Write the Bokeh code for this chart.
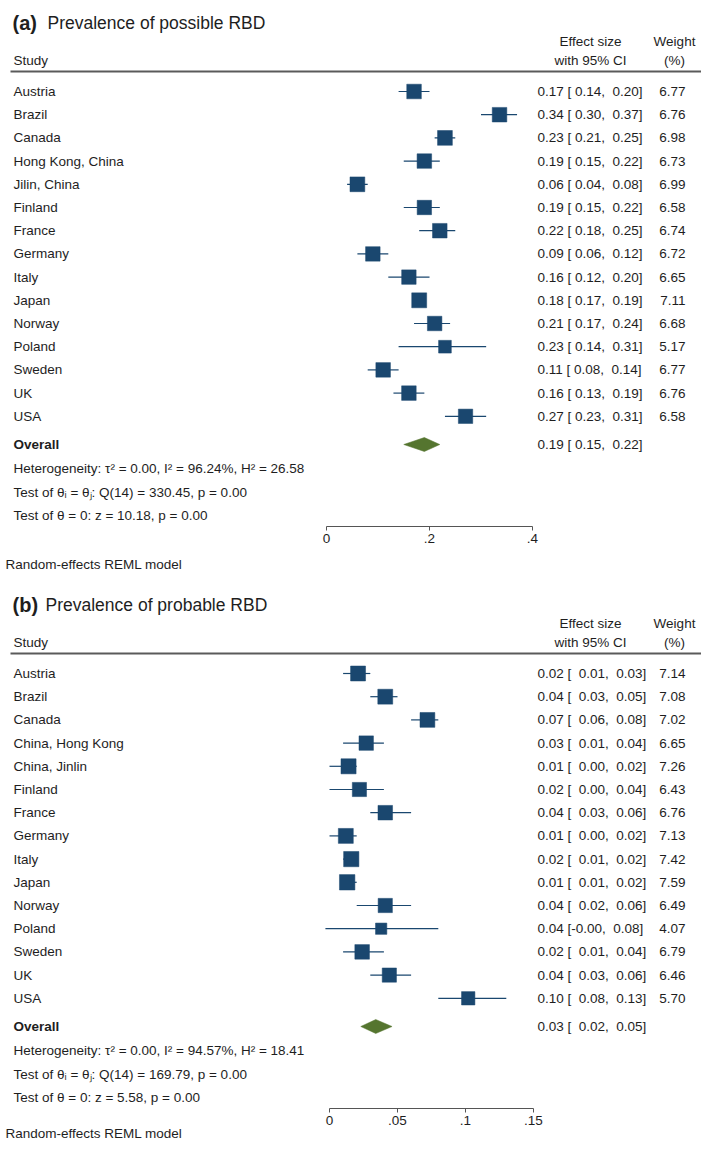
import math
from bokeh.plotting import figure
from bokeh.models import ColumnDataSource, Range1d, LinearAxis, FixedTicker, CustomJSTickFormatter
from bokeh.core.properties import value
from bokeh.embed import file_html
from bokeh.resources import INLINE

# ---------------- data: panel (a) possible RBD ----------------
studies_a = ["Austria", "Brazil", "Canada", "Hong Kong, China", "Jilin, China", "Finland",
             "France", "Germany", "Italy", "Japan", "Norway", "Poland", "Sweden", "UK", "USA"]
es_a = [0.17, 0.336, 0.23, 0.19, 0.06, 0.19, 0.22, 0.09, 0.16, 0.18, 0.21, 0.23, 0.11, 0.16, 0.27]
lo_a = [0.14, 0.30, 0.21, 0.15, 0.04, 0.15, 0.18, 0.06, 0.12, 0.17, 0.17, 0.14, 0.08, 0.13, 0.23]
hi_a = [0.20, 0.37, 0.25, 0.22, 0.08, 0.22, 0.25, 0.12, 0.20, 0.19, 0.24, 0.31, 0.14, 0.19, 0.31]
wt_a = [6.77, 6.76, 6.98, 6.73, 6.99, 6.58, 6.74, 6.72, 6.65, 7.11, 6.68, 5.17, 6.77, 6.76, 6.58]
overall_a = [0.19, 0.15, 0.22]
tau2_a, i2_a, h2_a = 0.00, 96.24, 26.58
q_a, qdf_a, qp_a = 330.45, 14, 0.00
z_a, zp_a = 10.18, 0.00
ticks_a = [0, 0.2, 0.4]

# ---------------- data: panel (b) probable RBD ----------------
studies_b = ["Austria", "Brazil", "Canada", "China, Hong Kong", "China, Jinlin", "Finland",
             "France", "Germany", "Italy", "Japan", "Norway", "Poland", "Sweden", "UK", "USA"]
es_b = [0.021, 0.041, 0.072, 0.027, 0.014, 0.022, 0.041, 0.012, 0.016, 0.013, 0.041, 0.038, 0.024, 0.044, 0.102]
lo_b = [0.01, 0.03, 0.06, 0.01, 0.00, 0.00, 0.03, 0.00, 0.01, 0.01, 0.02, -0.003, 0.01, 0.03, 0.08]
hi_b = [0.03, 0.05, 0.08, 0.04, 0.02, 0.04, 0.06, 0.02, 0.02, 0.02, 0.06, 0.08, 0.04, 0.06, 0.13]
wt_b = [7.14, 7.08, 7.02, 6.65, 7.26, 6.43, 6.76, 7.13, 7.42, 7.59, 6.49, 4.07, 6.79, 6.46, 5.70]
overall_b = [0.034, 0.023, 0.046]
tau2_b, i2_b, h2_b = 0.00, 94.57, 18.41
q_b, qdf_b, qp_b = 169.79, 14, 0.00
z_b, zp_b = 5.58, 0.00
ticks_b = [0, 0.05, 0.1, 0.15]

# ---------------- layout / style ----------------
W, H = 701, 1141
NAVY = "#1a476f"
GREEN = "#55752f"
TXT = "#1e1e1e"
RULE_C = "#5a5a5a"
FONT = "Liberation Sans"
FS = "13.5px"
NB = "\u00a0"

TITLE_BASE = 22
HDR1 = 41
HDR2 = 60
RULE_Y = 71
ROW0 = 91
ROWH = 23.2
OVERALL_Y = 444
STAT_Y = [468, 492, 515]
AXIS_Y = 526
MODEL_Y = 564
PANEL_OFF = 582

STUDY_X = 13
ES_X = 537
ES_CX = 590
WT_CX = 674
WT_R = 685
RULE_X1 = 702
SQ_K = 5.6
DH = 7

X0 = {"a": 326, "b": 329}
PXU = {"a": 515, "b": 1360}

p = figure(width=W, height=H, x_range=Range1d(0, W), y_range=Range1d(H, 0),
           output_backend="svg", toolbar_location=None,
           x_axis_location=None, y_axis_location=None, min_border=0)
p.outline_line_color = None
p.grid.visible = False
p.background_fill_color = "white"
p.extra_x_ranges = {k: Range1d(-X0[k] / PXU[k], (W - X0[k]) / PXU[k]) for k in X0}


def txt(xs, ys, texts, size=FS, bold=False, align="left", baseline="middle"):
    src = ColumnDataSource(dict(x=xs, y=ys, t=texts))
    p.text("x", "y", text="t", source=src, text_font=value(FONT), text_font_size=value(size),
           text_font_style="bold" if bold else "normal", text_align=align,
           text_baseline=baseline, text_color=TXT)


def fmt(e, l, h, lw):
    ls = f"{l:.2f}"
    if l >= 0:
        ls = NB * lw + ls
    return f"{e:.2f}{NB}[{ls},{NB}{NB}{h:.2f}]"


def panel(key, off, letter, title, title_x, studies, es, lo, hi, wt, ov, stats, ticks, lw):
    n = len(studies)
    ys = [off + ROW0 + i * ROWH for i in range(n)]
    txt([12], [off + TITLE_BASE], [f"({letter})"], size="20px", bold=True, baseline="alphabetic")
    txt([title_x], [off + TITLE_BASE], [title], size="17.5px", baseline="alphabetic")
    txt([STUDY_X], [off + HDR2], ["Study"])
    txt([ES_CX, ES_CX], [off + HDR1, off + HDR2], ["Effect size", "with 95% CI"], align="center")
    txt([WT_CX, WT_CX], [off + HDR1, off + HDR2], ["Weight", "(%)"], align="center")
    p.segment(x0=[10], x1=[RULE_X1], y0=[off + RULE_Y], y1=[off + RULE_Y], line_color=RULE_C, line_width=2)

    txt([STUDY_X] * n, ys, studies)
    txt([ES_X] * n, ys, [fmt(e, l, h, lw) for e, l, h in zip(es, lo, hi)])
    txt([WT_R] * n, ys, [f"{w:.2f}" for w in wt], align="right")

    src = ColumnDataSource(dict(es=es, lo=lo, hi=hi, y=ys, s=[SQ_K * math.sqrt(w) for w in wt]))
    p.segment(x0="lo", x1="hi", y0="y", y1="y", source=src, x_range_name=key,
              line_color=NAVY, line_width=1.2)
    p.scatter(x="es", y="y", size="s", marker="square", source=src, x_range_name=key,
              fill_color=NAVY, line_color=NAVY, line_width=0.5)

    oy = off + OVERALL_Y
    txt([STUDY_X], [oy], ["Overall"], bold=True)
    p.patches(xs=[[ov[1], ov[0], ov[2], ov[0]]], ys=[[oy, oy - DH, oy, oy + DH]],
              x_range_name=key, fill_color=GREEN, line_color=GREEN, line_width=0.5)
    txt([ES_X], [oy], [fmt(ov[0], ov[1], ov[2], lw)])

    tau2, i2, h2, q, qdf, qp, z, zp = stats
    lines = [f"Heterogeneity: \u03c4\u00b2 = {tau2:.2f}, I\u00b2 = {i2:.2f}%, H\u00b2 = {h2:.2f}",
             f"Test of \u03b8\u1d62 = \u03b8\u2c7c: Q({qdf}) = {q:.2f}, p = {qp:.2f}",
             f"Test of \u03b8 = 0: z = {z:.2f}, p = {zp:.2f}"]
    txt([STUDY_X] * 3, [off + s for s in STAT_Y], lines)

    ax = LinearAxis(x_range_name=key, ticker=FixedTicker(ticks=ticks),
                    bounds=(ticks[0], ticks[-1]), fixed_location=off + AXIS_Y,
                    formatter=CustomJSTickFormatter(code="return String(tick).replace(/^0\\./, '.');"))
    ax.axis_line_color = "#555555"
    ax.axis_line_width = 1
    ax.major_tick_line_color = "#555555"
    ax.major_tick_in = 0
    ax.major_tick_out = 4
    ax.minor_tick_out = 0
    ax.major_label_standoff = 3
    ax.major_label_text_font = FONT
    ax.major_label_text_font_size = FS
    ax.major_label_text_color = TXT
    p.add_layout(ax, "below")

    txt([5], [min(off + MODEL_Y, H - 8)], ["Random-effects REML model"])


panel("a", 0, "a", "Prevalence of possible RBD", 47, studies_a, es_a, lo_a, hi_a, wt_a, overall_a,
      (tau2_a, i2_a, h2_a, q_a, qdf_a, qp_a, z_a, zp_a), ticks_a, 1)
panel("b", PANEL_OFF, "b", "Prevalence of probable RBD", 45, studies_b, es_b, lo_b, hi_b, wt_b, overall_b,
      (tau2_b, i2_b, h2_b, q_b, qdf_b, qp_b, z_b, zp_b), ticks_b, 2)

open("out.html", "w").write(file_html(p, INLINE))
